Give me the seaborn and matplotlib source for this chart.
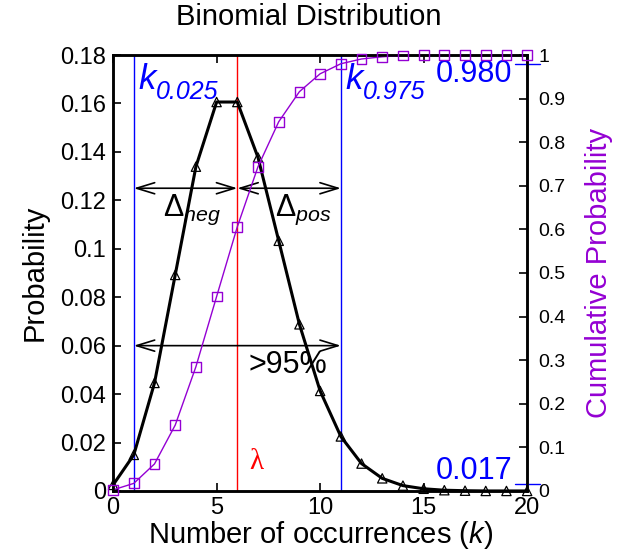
import numpy as np
import matplotlib
matplotlib.use("Agg")
import matplotlib.pyplot as plt
import seaborn as sns
import pandas as pd

# data (lambda = 6)
k_values = list(range(21))
pmf = [0.0025, 0.0149, 0.0446, 0.0892, 0.1339, 0.1606, 0.1606, 0.1377, 0.1033,
       0.0688, 0.0413, 0.0225, 0.0113, 0.0052, 0.0022, 0.0009, 0.0003, 0.0001,
       0.0000, 0.0000, 0.0000]
cdf = [0.0025, 0.0174, 0.062, 0.151, 0.285, 0.446, 0.606, 0.744, 0.847, 0.916,
       0.957, 0.980, 0.991, 0.996, 0.999, 0.9995, 0.9999, 1.0, 1.0, 1.0, 1.0]
lam = 6
k_low, k_high = 1, 11
cdf_low, cdf_high = 0.017, 0.980

df = pd.DataFrame({"k": k_values, "pmf": pmf, "cdf": cdf})

sns.set_style("ticks")
plt.rcParams['font.family'] = ['Liberation Sans', 'DejaVu Sans']
plt.rcParams['mathtext.fontset'] = 'custom'
plt.rcParams['mathtext.rm'] = 'Liberation Sans'
plt.rcParams['mathtext.it'] = 'Liberation Sans:italic'
plt.rcParams['xtick.direction'] = 'in'
plt.rcParams['ytick.direction'] = 'in'
for key in ['text.color', 'axes.labelcolor', 'xtick.color', 'ytick.color',
            'axes.edgecolor']:
    plt.rcParams[key] = 'black'

purple = '#9400D3'

fig = plt.figure(figsize=(6.18, 5.56), dpi=100)
ax = fig.add_axes([0.183, 0.117, 0.670, 0.784])
ax2 = ax.twinx()

# vertical markers
ax.axvline(k_low, color='blue', lw=1)
ax.axvline(k_high, color='blue', lw=1)
ax.axvline(lam, color='red', lw=1)

# PMF
sns.lineplot(data=df, x="k", y="pmf", ax=ax, color='black', lw=2.2)
sns.scatterplot(data=df, x="k", y="pmf", ax=ax, marker='^', s=45,
                facecolor='none', edgecolor='black', linewidth=0.9, zorder=5,
                clip_on=False)

# CDF
sns.lineplot(data=df, x="k", y="cdf", ax=ax2, color=purple, lw=1)
sns.scatterplot(data=df, x="k", y="cdf", ax=ax2, marker='s', s=50,
                facecolor='none', edgecolor=purple, linewidth=1, zorder=5,
                clip_on=False)

ax.set_xlim(0, 20)
ax.set_ylim(0, 0.18)
ax2.set_ylim(0, 1)
ax.set_xticks([0, 5, 10, 15, 20])
ax.set_yticks(np.arange(0, 0.181, 0.02))
ax.yaxis.set_major_formatter(matplotlib.ticker.FormatStrFormatter('%g'))
ax2.set_yticks(np.arange(0, 1.01, 0.1))
ax2.yaxis.set_major_formatter(matplotlib.ticker.FormatStrFormatter('%g'))
ax.tick_params(axis='x', top=True, labelsize=17, length=6, width=1.2, pad=4)
ax.tick_params(axis='y', labelsize=17, length=6, width=1.2, pad=5)
ax2.tick_params(axis='y', labelsize=14, length=6, width=1.2, pad=8)
for a in (ax, ax2):
    for s in a.spines.values():
        s.set_linewidth(1.8)
        s.set_visible(True)

ax.set_xlabel("Number of occurrences ($k$)", fontsize=21, labelpad=0)
ax.set_ylabel("Probability", fontsize=21, labelpad=8)
ax2.set_ylabel("Cumulative Probability", fontsize=21, color=purple, labelpad=14)
fig.text(0.5, 1 - 17 / 556, "Binomial Distribution", fontsize=21,
         ha='center', va='center')

# arrows
arrow = dict(arrowstyle='<->,head_length=1.3,head_width=0.4', color='black', lw=1.2,
             shrinkA=0, shrinkB=0)
ax.annotate('', xy=(k_low, 0.125), xytext=(lam, 0.125), arrowprops=arrow)
ax.annotate('', xy=(lam, 0.125), xytext=(k_high, 0.125), arrowprops=arrow)
ax.annotate('', xy=(k_low, 0.06), xytext=(k_high, 0.06), arrowprops=arrow)

ax.text(2.4, 0.116, r'$\mathrm{\Delta}_{neg}$', fontsize=22, va='center')
ax.text(7.8, 0.116, r'$\mathrm{\Delta}_{pos}$', fontsize=22, va='center')
ax.text(6.55, 0.052, '>95%', fontsize=22, va='center')

# quantile labels: italic k with italic subscript
for xk, sub in [(k_low, '0.025'), (k_high, '0.975')]:
    ax.annotate('k', xy=(xk, 0.170), xytext=(3, 0), textcoords='offset points',
                color='blue', fontsize=25, style='italic', va='center')
    ax.annotate(sub, xy=(xk, 0.170), xytext=(16, -9), textcoords='offset points',
                color='blue', fontsize=18, style='italic', va='center')

ax.text(6.6, 0.012, 'λ', color='red', fontsize=21, va='center',
        family=['Liberation Serif', 'DejaVu Serif'])

ax2.text(19.3, cdf_high + 0.012, f'{cdf_high:.3f}', color='blue', fontsize=22,
         ha='right', va='top')
ax2.text(19.3, cdf_low - 0.005, f'{cdf_low:.3f}', color='blue', fontsize=22,
         ha='right', va='bottom')
ax2.plot([19.4, 20.6], [cdf_high, cdf_high], color='blue', lw=1, clip_on=False)
ax2.plot([19.4, 20.6], [cdf_low, cdf_low], color='blue', lw=1, clip_on=False)

fig.savefig("out.png", dpi=100)
